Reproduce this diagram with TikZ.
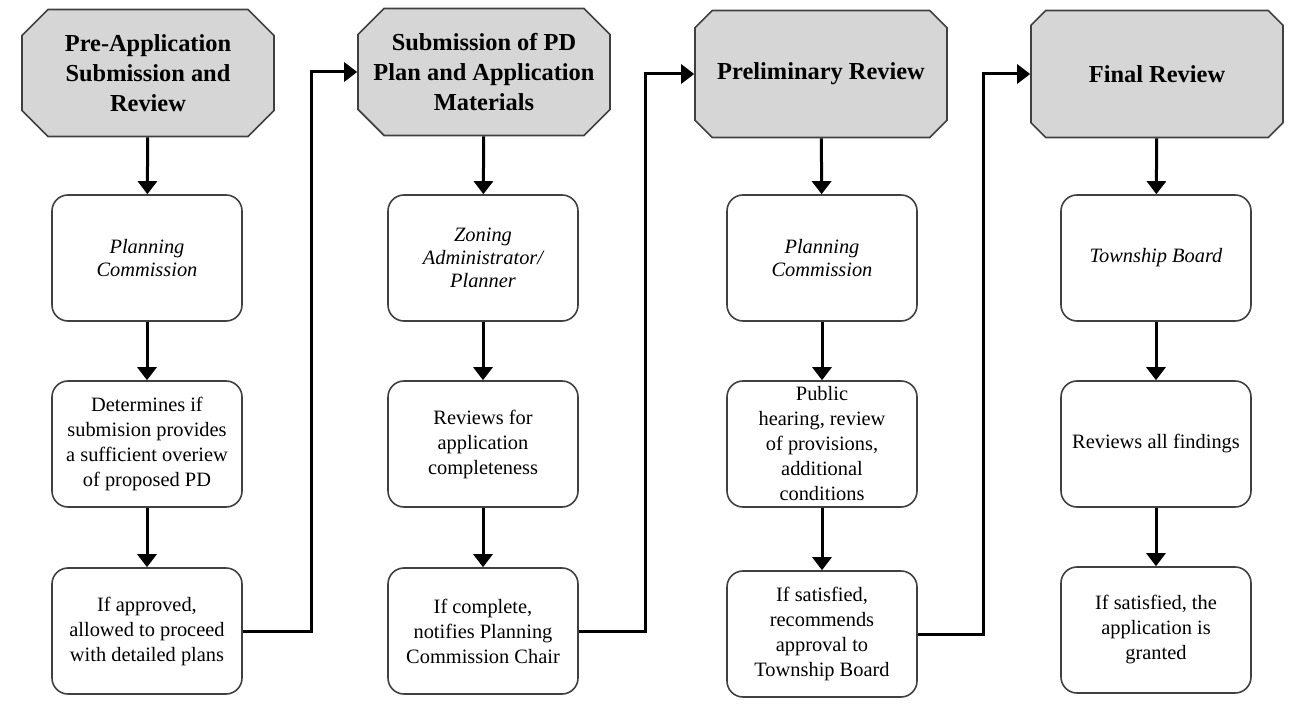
\documentclass[tikz,border=0pt]{standalone}
\usepackage{fontspec}
\setmainfont{Liberation Serif}
\usetikzlibrary{shapes.misc,arrows.meta}
\begin{document}
\begin{tikzpicture}[x=0.5pt,y=-0.5pt,
  every node/.style={font=\fontsize{10.2}{12.5}\selectfont, align=center},
  head/.style={chamfered rectangle, chamfered rectangle xsep=10pt,
    draw=black!75, line width=0.8pt, fill=black!16,
    minimum width=126pt, minimum height=63.5pt,
    inner xsep=-3pt, inner ysep=0pt,
    font=\fontsize{12.2}{15}\selectfont\bfseries},
  stage/.style={draw=black!75, line width=0.8pt, rounded corners=8pt,
    minimum width=95pt, minimum height=63pt, inner sep=1pt},
  who/.style={stage, font=\fontsize{10.2}{11.5}\selectfont\itshape},
  flow/.style={line width=1.5pt, -{Triangle[width=9.5pt,length=6.5pt]}}]
 \useasboundingbox (0,0) rectangle (1291,711);
 % headers
 \node[head] (h1) at (148,73) {Pre-Application\\Submission and\\Review};
 \node[head] (h2) at (484,72) {Submission of PD\\Plan and Application\\Materials};
 \node[head] (h3) at (821,74) {Preliminary Review};
 \node[head] (h4) at (1157,74) {Final Review};
 % column 1
 \node[who] (a1) at (147,258) {Planning\\Commission};
 \node[stage] (a2) at (147,444) {Determines if\\submision provides\\a sufficient overiew\\of proposed PD};
 \node[stage] (a3) at (147,631) {If approved,\\allowed to proceed\\with detailed plans};
 % column 2
 \node[who] (b1) at (483,258) {Zoning\\Administrator/\\Planner};
 \node[stage] (b2) at (483,444) {Reviews for\\application\\completeness};
 \node[stage] (b3) at (483,631) {If complete,\\notifies Planning\\Commission Chair};
 % column 3
 \node[who] (c1) at (822,258) {Planning\\Commission};
 \node[stage] (c2) at (822,444) {Public\\hearing, review\\of provisions,\\additional\\conditions};
 \node[stage] (c3) at (822,634) {If satisfied,\\recommends\\approval to\\Township Board};
 % column 4
 \node[who] (d1) at (1156,258) {Township Board};
 \node[stage] (d2) at (1156,444) {Reviews all findings};
 \node[stage] (d3) at (1156,630) {If satisfied, the\\application is\\granted};
 % arrows down
 \draw[flow] (h1) -- (a1); \draw[flow] (a1) -- (a2); \draw[flow] (a2) -- (a3);
 \draw[flow] (h2) -- (b1); \draw[flow] (b1) -- (b2); \draw[flow] (b2) -- (b3);
 \draw[flow] (h3) -- (c1); \draw[flow] (c1) -- (c2); \draw[flow] (c2) -- (c3);
 \draw[flow] (h4) -- (d1); \draw[flow] (d1) -- (d2); \draw[flow] (d2) -- (d3);
 % links to next stage
 \draw[flow] (a3.east) -- ++(69,0) |- (h2.west);
 \draw[flow] (b3.east) -- ++(67,0) |- (h3.west);
 \draw[flow] (c3.east) -- ++(66,0) |- (h4.west);
\end{tikzpicture}
\end{document}
